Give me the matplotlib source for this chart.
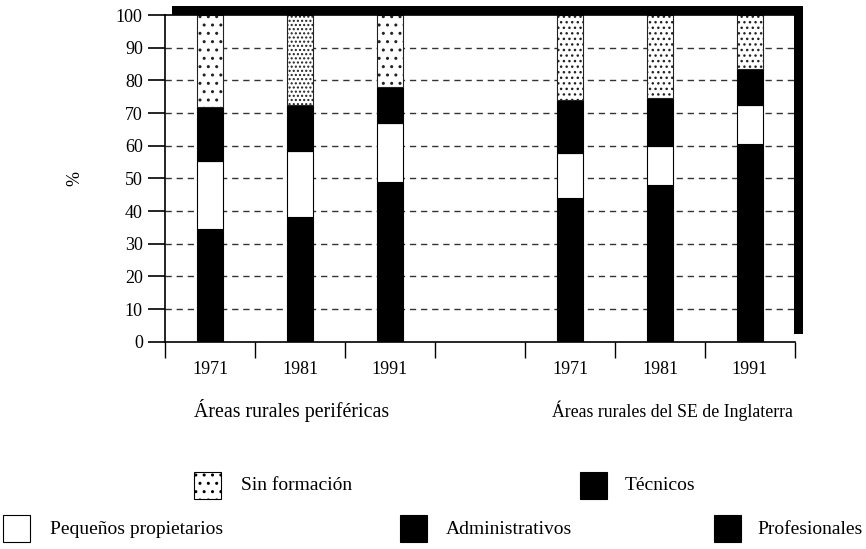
import matplotlib
matplotlib.use('Agg')
import matplotlib.pyplot as plt
from matplotlib.patches import Rectangle

plt.rcParams['font.family'] = ['Liberation Serif', 'DejaVu Serif']
plt.rcParams['font.size'] = 13
plt.rcParams['hatch.linewidth'] = 1.0

# data (% of each bar)
years = ['1971', '1981', '1991', '1971', '1981', '1991']
groups = ['Áreas rurales periféricas', 'Áreas rurales del SE de Inglaterra']
# Profesionales + Administrativos share the same black fill at the bottom
prof_adm = [34.4, 38.3, 48.9, 44.1, 48.0, 60.4]
pequenos = [20.8, 20.1, 17.9, 13.6, 11.9, 12.1]
tecnicos = [16.5, 14.0, 11.3, 16.3, 14.8, 10.9]
sin_form = [28.3, 27.6, 21.9, 26.0, 25.3, 16.6]
stipple = ['..', '....', '..', '...', '...', '...']

W, H = 866, 549
fig = plt.figure(figsize=(W / 100, H / 100), dpi=100)
ax = fig.add_axes([165 / W, 1 - 341.7 / H, 630 / W, 326.7 / H])

# gap of one slot between the two groups
x = [i if i < 3 else i + 1 for i in range(len(years))]
bw = 0.29

for yv in range(10, 100, 10):
    ax.axhline(yv, color='#333333', lw=1.0, ls=(0, (4.5, 3.5)), zorder=0)

bottom = [0] * len(x)
ax.bar(x, prof_adm, bw, bottom=bottom, color='black', edgecolor='black', lw=0.8, zorder=2)
bottom = [b + v for b, v in zip(bottom, prof_adm)]
ax.bar(x, pequenos, bw, bottom=bottom, color='white', edgecolor='black', lw=0.8, zorder=2)
bottom = [b + v for b, v in zip(bottom, pequenos)]
ax.bar(x, tecnicos, bw, bottom=bottom, color='black', edgecolor='black', lw=0.8, zorder=2)
bottom = [b + v for b, v in zip(bottom, tecnicos)]
for xi, b, v, h in zip(x, bottom, sin_form, stipple):
    ax.bar(xi, v, bw, bottom=b, color='white', edgecolor='#222222', hatch=h, lw=0.8, zorder=2)

ax.set_xlim(-0.5, 6.5)
ax.set_ylim(0, 100)
ax.set_yticks(range(0, 101, 10))
ax.set_xticks([i - 0.5 for i in range(8)])
ax.set_xticklabels([])
ax.set_xticks(x, years, minor=True)
ax.tick_params(axis='x', which='major', direction='out', length=11.5, width=1.0)
ax.tick_params(axis='x', which='minor', length=0, pad=14, labelsize=13)
ax.tick_params(axis='y', direction='out', length=12, width=1.2, pad=4, labelsize=13)
for s in ['left', 'bottom', 'top']:
    ax.spines[s].set_linewidth(1.2)
ax.spines['right'].set_visible(False)

# heavy shadow frame on top and right
fig.add_artist(Rectangle((172 / W, 1 - 15 / H), 631 / W, 9 / H, transform=fig.transFigure,
                         facecolor='black', edgecolor='none', zorder=5))
fig.add_artist(Rectangle((794 / W, 1 - 334 / H), 9 / W, 328 / H, transform=fig.transFigure,
                         facecolor='black', edgecolor='none', zorder=5))

fig.text(75 / W, 1 - 178 / H, '%', rotation=90, ha='center', va='center', fontsize=13)
fig.text(292 / W, 1 - 411 / H, groups[0], ha='center', va='center', fontsize=14.3)
fig.text(672 / W, 1 - 411 / H, groups[1], ha='center', va='center', fontsize=12.8)

# legend drawn by hand to keep the two-row layout
legend = [
    ('Sin formación', 194, 472, 'white', '..', 241),
    ('Técnicos', 580, 472, 'black', None, 625),
    ('Pequeños propietarios', 3, 515, 'white', None, 50),
    ('Administrativos', 400, 515, 'black', None, 446),
    ('Profesionales', 714, 515, 'black', None, 757),
]
for label, bx, by, fc, hatch, tx in legend:
    fig.add_artist(Rectangle((bx / W, 1 - (by + 27) / H), 27 / W, 27 / H, transform=fig.transFigure,
                             facecolor=fc, edgecolor='black', hatch=hatch, lw=0.8))
    fig.text(tx / W, 1 - (by + 14) / H, label, ha='left', va='center', fontsize=14)

fig.savefig('out.png', dpi=100)
